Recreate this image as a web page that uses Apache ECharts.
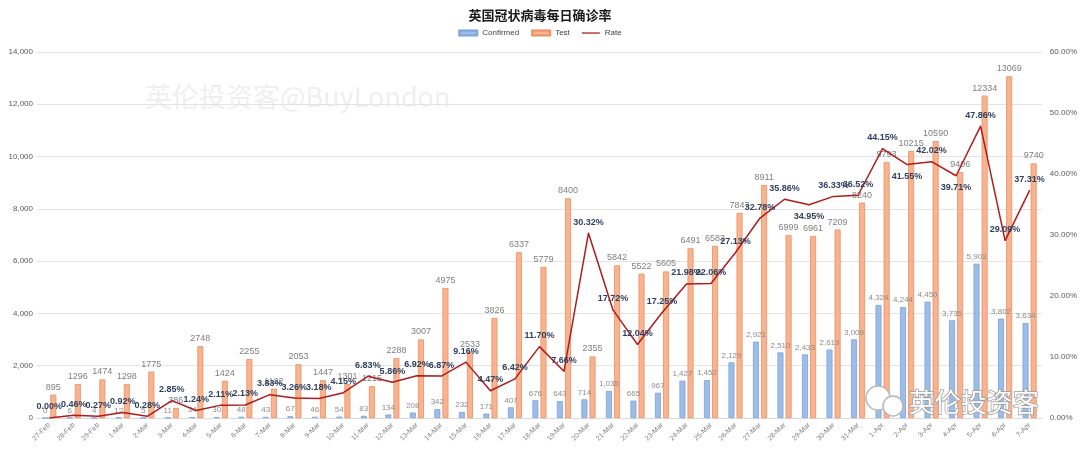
<!DOCTYPE html>
<html>
<head>
<meta charset="utf-8">
<script src="https://cdn.jsdelivr.net/npm/echarts@6/dist/echarts.min.js"></script>
<style>html,body{margin:0;padding:0;background:#fff}#c{width:1080px;height:452px}</style>
</head>
<body>
<div id="c"></div>
<script>
var categories = ['27-Feb','28-Feb','29-Feb','1-Mar','2-Mar','3-Mar','4-Mar','5-Mar','6-Mar','7-Mar','8-Mar','9-Mar','10-Mar','11-Mar','12-Mar','13-Mar','14-Mar','15-Mar','16-Mar','17-Mar','18-Mar','19-Mar','20-Mar','21-Mar','22-Mar','23-Mar','24-Mar','25-Mar','26-Mar','27-Mar','28-Mar','29-Mar','30-Mar','31-Mar','1-Apr','2-Apr','3-Apr','4-Apr','5-Apr','6-Apr','7-Apr'];
var confirmed = [0,6,4,12,5,11,34,30,48,43,67,46,54,83,134,208,342,232,171,407,676,643,714,1035,665,967,1427,1452,2129,2921,2510,2433,2619,3009,4324,4244,4450,3735,5903,3802,3634];
var test = [895,1296,1474,1298,1775,386,2748,1424,2255,1122,2053,1447,1301,1215,2288,3007,4975,2533,3826,6337,5779,8400,2355,5842,5522,5605,6491,6583,7847,8911,6999,6961,7209,8240,9793,10215,10590,9406,12334,13069,9740];
var rate = [0.00,0.46,0.27,0.92,0.28,2.85,1.24,2.11,2.13,3.83,3.26,3.18,4.15,6.83,5.86,6.92,6.87,9.16,4.47,6.42,11.70,7.66,30.32,17.72,12.04,17.25,21.98,22.06,27.13,32.78,35.86,34.95,36.33,36.52,44.15,41.55,42.02,39.71,47.86,29.09,37.31];
var leftTicks = [0,2000,4000,6000,8000,10000,12000,14000];
var rightTicks = [0,10,20,30,40,50,60];

var FONT = '"Liberation Sans", "Noto Sans CJK SC", sans-serif';
var chart = echarts.init(document.getElementById('c'), null, {renderer:'canvas'});
chart.setOption({
  animation:false,
  backgroundColor:'#ffffff',
  textStyle:{fontFamily:FONT},
  title:{
    text:'英国冠状病毒每日确诊率',
    left:'center', top:4,
    textStyle:{fontSize:13, fontWeight:'bold', color:'#1a1a1a', fontFamily:'"Noto Sans CJK SC", sans-serif'}
  },
  legend:{
    top:24, left:'center',
    itemWidth:18, itemHeight:5, itemGap:12,
    textStyle:{fontSize:8, color:'#404040'},
    data:[
      {name:'Confirmed', icon:'rect'},
      {name:'Test', icon:'rect'},
      {name:'Rate', icon:'path://M0,0 L20,0 L20,1.4 L0,1.4 Z'}
    ]
  },
  graphic:[
    {type:'text', left:145, top:83, z:0, silent:true,
     style:{text:'英伦投资客@BuyLondon', fontSize:27, fill:'#efefef', fontFamily:'"Noto Sans CJK SC", sans-serif'}},
    {type:'circle', shape:{cx:878, cy:398, r:12}, z:100, style:{fill:'#ffffff', stroke:'#b8b8b8', lineWidth:1.5}},
    {type:'circle', shape:{cx:893, cy:406, r:10}, z:100, style:{fill:'#ffffff', stroke:'#b8b8b8', lineWidth:1.5}},
    {type:'text', left:908, top:388, z:100, silent:true,
     style:{text:'英伦投资客', fontSize:26, fill:'#ffffff', stroke:'#9a9a9a', lineWidth:1.5, fontFamily:'"Noto Sans CJK SC", sans-serif'}}
  ],
  grid:{left:37, right:36, top:52, bottom:34},
  xAxis:{
    type:'category', data:categories,
    axisLine:{lineStyle:{color:'#d9d9d9'}},
    axisTick:{show:false},
    axisLabel:{rotate:45, fontSize:7, color:'#7f7f7f', interval:0, margin:6}
  },
  yAxis:[
    {type:'value', min:0, max:14000, interval:2000,
     axisLine:{show:false}, axisTick:{show:false},
     axisLabel:{fontSize:8, color:'#595959', margin:4, formatter:function(v){return v.toLocaleString('en-US');}},
     splitLine:{lineStyle:{color:'#e3e3e3'}}},
    {type:'value', min:0, max:60, interval:10,
     axisLine:{show:false}, axisTick:{show:false},
     axisLabel:{fontSize:8, color:'#595959', margin:8, formatter:function(v){return v.toFixed(2)+'%';}},
     splitLine:{show:false}}
  ],
  series:[
    {name:'Confirmed', type:'bar', data:confirmed, barWidth:6, barGap:'35%',
     itemStyle:{color:'#9dbde6', borderColor:'#7aa3d9', borderWidth:0.8},
     label:{show:true, position:'top', fontSize:8, color:'#8c8c8c', distance:3,
            formatter:function(p){return p.value.toLocaleString('en-US');}}},
    {name:'Test', type:'bar', data:test, barWidth:6,
     itemStyle:{color:'#f6b491', borderColor:'#ee8d5f', borderWidth:0.8},
     label:{show:true, position:'top', fontSize:9, color:'#7f7f7f', distance:3}},
    {name:'Rate', type:'line', yAxisIndex:1, data:rate, symbol:'circle', symbolSize:1, showSymbol:true, z:5,
     lineStyle:{color:'#b01c1c', width:1.5},
     itemStyle:{color:'#b01c1c'},
     labelLayout:function(p){
       var i = p.dataIndex;
       var v = rate[i];
       if (i > 0 && i < rate.length - 1 && v < rate[i-1] && v < rate[i+1] && v > 30) {
         return {dy: p.labelRect.height + 14, hideOverlap:false};
       }
       return {hideOverlap:false};
     },
     label:{show:true, position:'top', distance:6, offset:[-6,0], fontSize:9, fontWeight:'bold', color:'#2f3f5f',
            formatter:function(p){return p.value.toFixed(2)+'%';}}}
  ]
});
</script>
</body>
</html>
